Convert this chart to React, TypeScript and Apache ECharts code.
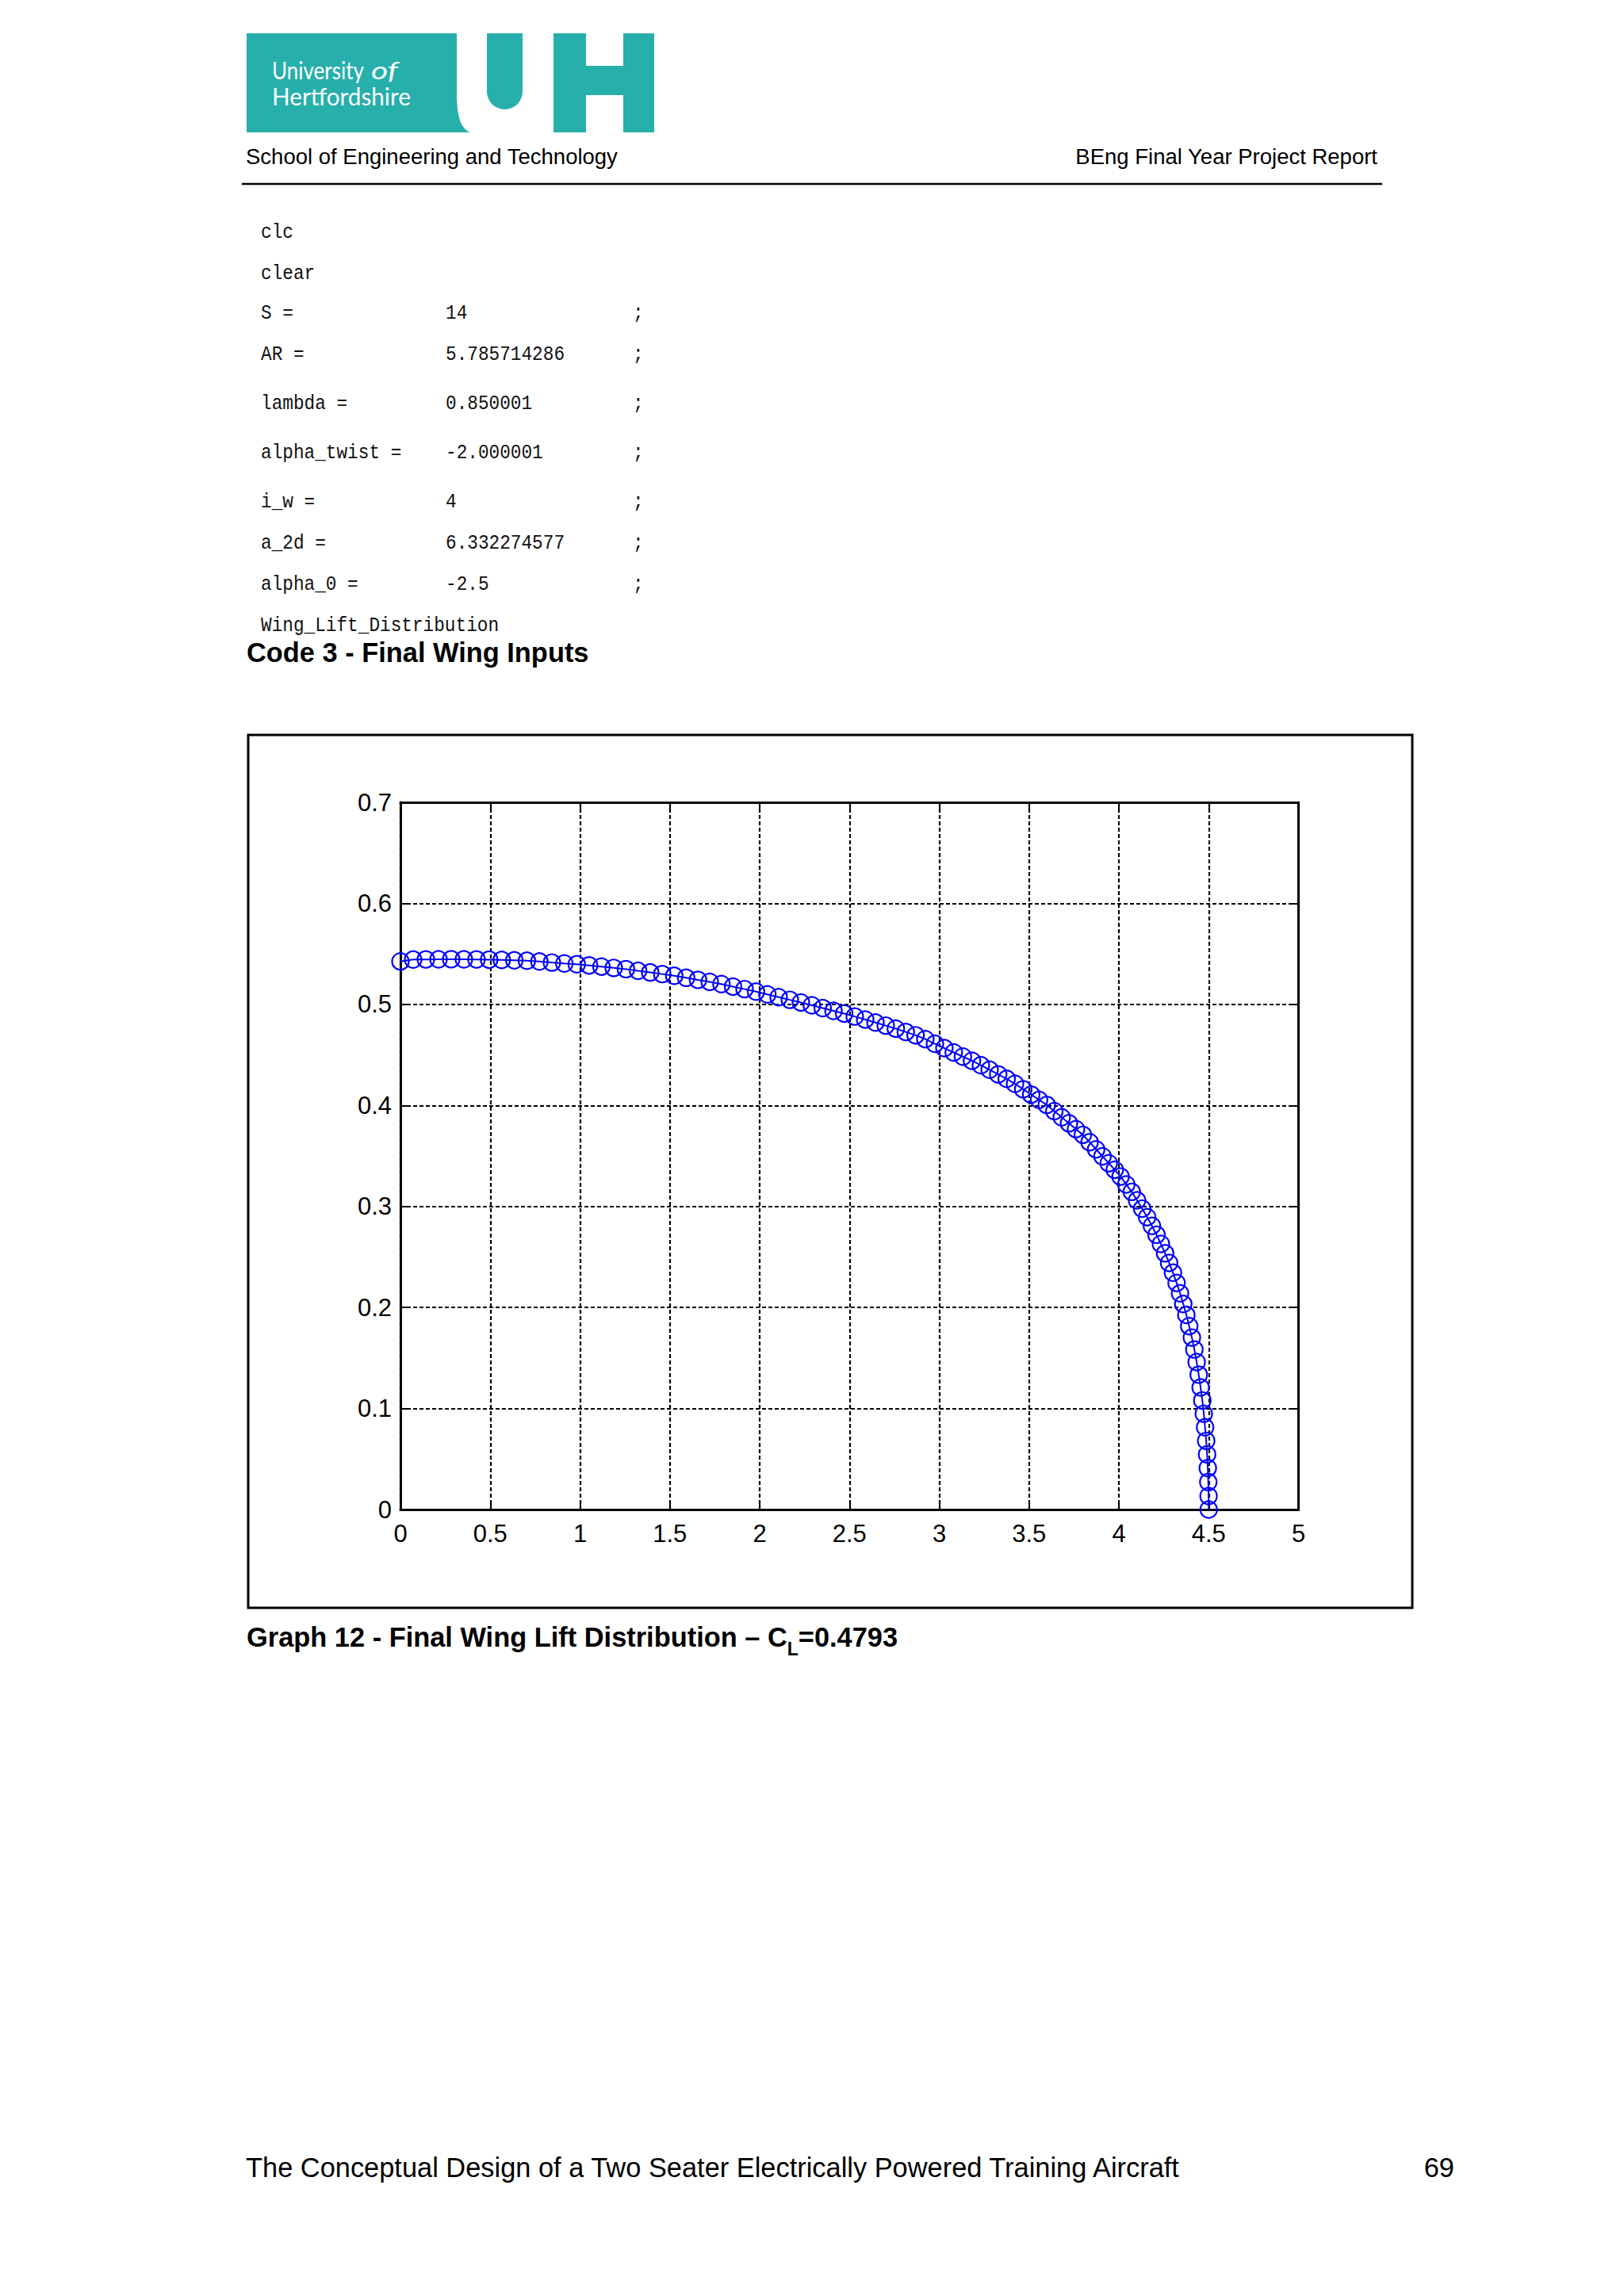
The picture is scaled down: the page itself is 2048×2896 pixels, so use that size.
import React, { useEffect, useRef } from 'react';
import * as echarts from 'echarts';

// ---- Data ----
const X_VALUES = [
  0.0000, 0.0707, 0.1413, 0.2120, 0.2826, 0.3531, 0.4235, 0.4938, 0.5640, 0.6341,
  0.7040, 0.7737, 0.8432, 0.9125, 0.9816, 1.0505, 1.1191, 1.1874, 1.2555, 1.3232,
  1.3906, 1.4576, 1.5243, 1.5906, 1.6566, 1.7221, 1.7872, 1.8518, 1.9160, 1.9797,
  2.0430, 2.1057, 2.1679, 2.2296, 2.2907, 2.3512, 2.4112, 2.4706, 2.5294, 2.5875,
  2.6450, 2.7019, 2.7581, 2.8136, 2.8684, 2.9225, 2.9759, 3.0286, 3.0805, 3.1316,
  3.1820, 3.2316, 3.2804, 3.3283, 3.3755, 3.4218, 3.4673, 3.5119, 3.5557, 3.5986,
  3.6406, 3.6817, 3.7219, 3.7611, 3.7995, 3.8369, 3.8733, 3.9088, 3.9434, 3.9769,
  4.0095, 4.0411, 4.0717, 4.1013, 4.1299, 4.1575, 4.1840, 4.2095, 4.2340, 4.2574,
  4.2798, 4.3011, 4.3213, 4.3405, 4.3586, 4.3757, 4.3916, 4.4065, 4.4203, 4.4330,
  4.4446, 4.4551, 4.4645, 4.4728, 4.4800, 4.4861, 4.4911, 4.4950, 4.4978, 4.4994,
  4.5000,
];
const Y_VALUES = [
  0.5425, 0.5444, 0.5445, 0.5446, 0.5447, 0.5446, 0.5445, 0.5443, 0.5440, 0.5436,
  0.5432, 0.5424, 0.5414, 0.5405, 0.5397, 0.5386, 0.5374, 0.5361, 0.5349, 0.5332,
  0.5316, 0.5300, 0.5283, 0.5263, 0.5243, 0.5223, 0.5201, 0.5176, 0.5151, 0.5126,
  0.5099, 0.5072, 0.5045, 0.5019, 0.4991, 0.4963, 0.4936, 0.4909, 0.4880, 0.4850,
  0.4820, 0.4790, 0.4760, 0.4727, 0.4694, 0.4656, 0.4610, 0.4567, 0.4524, 0.4483,
  0.4442, 0.4398, 0.4353, 0.4307, 0.4263, 0.4214, 0.4160, 0.4107, 0.4055, 0.4005,
  0.3943, 0.3882, 0.3823, 0.3765, 0.3709, 0.3636, 0.3565, 0.3496, 0.3428, 0.3363,
  0.3295, 0.3218, 0.3144, 0.3060, 0.2978, 0.2894, 0.2808, 0.2720, 0.2629, 0.2536,
  0.2441, 0.2344, 0.2243, 0.2140, 0.2034, 0.1926, 0.1815, 0.1702, 0.1584, 0.1460,
  0.1335, 0.1208, 0.1080, 0.0948, 0.0814, 0.0680, 0.0546, 0.0410, 0.0272, 0.0134,
  0.0000,
];
const X_TICK_LABELS = ['0', '0.5', '1', '1.5', '2', '2.5', '3', '3.5', '4', '4.5', '5'];
const Y_TICK_LABELS = ['0', '0.1', '0.2', '0.3', '0.4', '0.5', '0.6', '0.7'];

const CODE_NAMES = ['clc', 'clear', 'S =', 'AR =', 'lambda =', 'alpha_twist =', 'i_w =', 'a_2d =', 'alpha_0 =', 'Wing_Lift_Distribution'];
const CODE_VALUES = ['', '', '14', '5.785714286', '0.850001', '-2.000001', '4', '6.332274577', '-2.5', ''];
const CODE_ENDS = ['', '', ';', ';', ';', ';', ';', ';', ';', ''];

const HEADER_LEFT = 'School of Engineering and Technology';
const HEADER_RIGHT = 'BEng Final Year Project Report';
const CODE_CAPTION = 'Code 3 - Final Wing Inputs';
const GRAPH_CAPTION_A = 'Graph 12 - Final Wing Lift Distribution \u2013 C';
const GRAPH_CAPTION_SUB = 'L';
const GRAPH_CAPTION_B = '=0.4793';
const FOOTER_LEFT = 'The Conceptual Design of a Two Seater Electrically Powered Training Aircraft';
const FOOTER_RIGHT = '69';

const TEAL = '#27AFAC';
const SANS = '"Liberation Sans", Arial, sans-serif';
const MONO = '"Liberation Mono", monospace';

echarts.graphic.registerShape(
  'uhbox',
  echarts.graphic.extendPath('M311 42 L576 42 L576 116 C576 150 582 162 593 167 L311 167 Z', {})
);

function measure(text: string, font: string): number {
  const c = document.createElement('canvas').getContext('2d');
  if (!c) return text.length * 10;
  c.font = font;
  return c.measureText(text).width;
}

export default function App() {
  const ref = useRef<HTMLDivElement>(null);

  useEffect(() => {
    document.body.style.margin = '0';
    document.body.style.background = '#ffffff';
    if (!ref.current) return;
    const chart = echarts.init(ref.current, undefined, { renderer: 'svg' });

    const logoFont = '31px Lato, "Open Sans", sans-serif';
    const logoFontItalic = 'italic 31px Lato, "Open Sans", sans-serif';
    const sUni = 116 / measure('University', logoFont);
    const sOf = 34 / measure('of', logoFontItalic);
    const sHert = 175 / measure('Hertfordshire', logoFont);

    const capFont = 'bold 34.4px ' + SANS;
    const subFont = 'bold 23px ' + SANS;
    const wA = measure(GRAPH_CAPTION_A, capFont);
    const wSub = measure(GRAPH_CAPTION_SUB, subFont);

    const codeFont = '26px ' + MONO;
    const codeScale = 13.66 / measure('W', codeFont);
    const codeMids = [293, 345, 395.5, 447, 509, 571, 633.5, 685, 737, 789];

    const graphics: any[] = [
      { type: 'uhbox', x: 0, y: 0, style: { fill: TEAL } },
      { type: 'rect', shape: { x: 614, y: 42, width: 45, height: 96, r: [0, 0, 22.5, 22.5] }, style: { fill: TEAL } },
      { type: 'rect', shape: { x: 698, y: 42, width: 41, height: 125 }, style: { fill: TEAL } },
      { type: 'rect', shape: { x: 786, y: 42, width: 39, height: 125 }, style: { fill: TEAL } },
      { type: 'rect', shape: { x: 738, y: 83, width: 49, height: 37 }, style: { fill: TEAL } },
      { type: 'text', x: 343, y: 88, scaleX: sUni, style: { text: 'University', font: logoFont, fill: '#ffffff', textVerticalAlign: 'middle' } },
      { type: 'text', x: 468, y: 88, scaleX: sOf, style: { text: 'of', font: logoFontItalic, fill: '#ffffff', textVerticalAlign: 'middle' } },
      { type: 'text', x: 343, y: 121, scaleX: sHert, style: { text: 'Hertfordshire', font: logoFont, fill: '#ffffff', textVerticalAlign: 'middle' } },
      { type: 'text', x: 310, y: 197, style: { text: HEADER_LEFT, font: '27.5px ' + SANS, fill: '#000', textVerticalAlign: 'middle' } },
      { type: 'text', x: 1737, y: 197, style: { text: HEADER_RIGHT, font: '27.5px ' + SANS, fill: '#000', textAlign: 'right', textVerticalAlign: 'middle' } },
      { type: 'line', shape: { x1: 305, y1: 232, x2: 1743, y2: 232 }, style: { stroke: '#000', lineWidth: 2.5 } },
      { type: 'text', x: 311, y: 823, style: { text: CODE_CAPTION, font: 'bold 34.4px ' + SANS, fill: '#000', textVerticalAlign: 'middle' } },
      { type: 'rect', shape: { x: 313, y: 927, width: 1468, height: 1101 }, style: { fill: 'none', stroke: '#000', lineWidth: 3 } },
      { type: 'text', x: 311, y: 2065, style: { text: GRAPH_CAPTION_A, font: capFont, fill: '#000', textVerticalAlign: 'middle' } },
      { type: 'text', x: 311 + wA, y: 2080, style: { text: GRAPH_CAPTION_SUB, font: subFont, fill: '#000', textVerticalAlign: 'middle' } },
      { type: 'text', x: 311 + wA + wSub, y: 2065, style: { text: GRAPH_CAPTION_B, font: capFont, fill: '#000', textVerticalAlign: 'middle' } },
      { type: 'text', x: 310, y: 2734, style: { text: FOOTER_LEFT, font: '34.4px ' + SANS, fill: '#000', textVerticalAlign: 'middle' } },
      { type: 'text', x: 1834, y: 2734, style: { text: FOOTER_RIGHT, font: '34.4px ' + SANS, fill: '#000', textAlign: 'right', textVerticalAlign: 'middle' } },
    ];
    CODE_NAMES.forEach((name, i) => {
      graphics.push({ type: 'text', x: 329, y: codeMids[i], scaleX: codeScale, style: { text: name, font: codeFont, fill: '#111', textVerticalAlign: 'middle' } });
      if (CODE_VALUES[i]) graphics.push({ type: 'text', x: 562, y: codeMids[i], scaleX: codeScale, style: { text: CODE_VALUES[i], font: codeFont, fill: '#111', textVerticalAlign: 'middle' } });
      if (CODE_ENDS[i]) graphics.push({ type: 'text', x: 798, y: codeMids[i], scaleX: codeScale, style: { text: CODE_ENDS[i], font: codeFont, fill: '#111', textVerticalAlign: 'middle' } });
    });

    const gridLine = { show: true, lineStyle: { color: '#000', width: 2.2, type: [5, 3] as any } };
    const axisLine = { show: true, onZero: false, lineStyle: { color: '#000', width: 3 } };
    const tick = { show: true, inside: true, length: 12, lineStyle: { color: '#000', width: 2 } };
    const label = { color: '#000', fontSize: 31, fontFamily: SANS };

    chart.setOption({
      animation: false,
      backgroundColor: '#ffffff',
      grid: { left: 505, top: 1012, width: 1132.5, height: 892, show: false },
      xAxis: [
        {
          type: 'value', min: 0, max: 5, interval: 0.5, position: 'bottom',
          axisLine, axisTick: tick, splitLine: gridLine,
          axisLabel: { ...label, margin: 15, formatter: (v: number) => X_TICK_LABELS[Math.round(v / 0.5)] ?? String(v) },
        },
        {
          type: 'value', min: 0, max: 5, interval: 0.5, position: 'top',
          axisLine, axisTick: tick, splitLine: { show: false }, axisLabel: { show: false },
        },
      ],
      yAxis: [
        {
          type: 'value', min: 0, max: 0.7, interval: 0.1, position: 'left',
          axisLine, axisTick: tick, splitLine: gridLine,
          axisLabel: { ...label, margin: 11, formatter: (v: number) => Y_TICK_LABELS[Math.round(v / 0.1)] ?? String(v) },
        },
        {
          type: 'value', min: 0, max: 0.7, interval: 0.1, position: 'right',
          axisLine, axisTick: tick, splitLine: { show: false }, axisLabel: { show: false },
        },
      ],
      series: [
        {
          type: 'line',
          xAxisIndex: 0,
          yAxisIndex: 0,
          data: X_VALUES.map((x, i) => [x, Y_VALUES[i]]),
          symbol: 'circle',
          symbolSize: 21,
          showSymbol: true,
          showAllSymbol: true,
          clip: false,
          z: 10,
          lineStyle: { color: '#0000ff', width: 2 },
          itemStyle: { color: 'rgba(0,0,0,0)', borderColor: '#0000ff', borderWidth: 2.2 },
        },
      ],
      graphic: graphics,
    });

    return () => chart.dispose();
  }, []);

  return <div ref={ref} style={{ width: 2048, height: 2896 }} />;
}
